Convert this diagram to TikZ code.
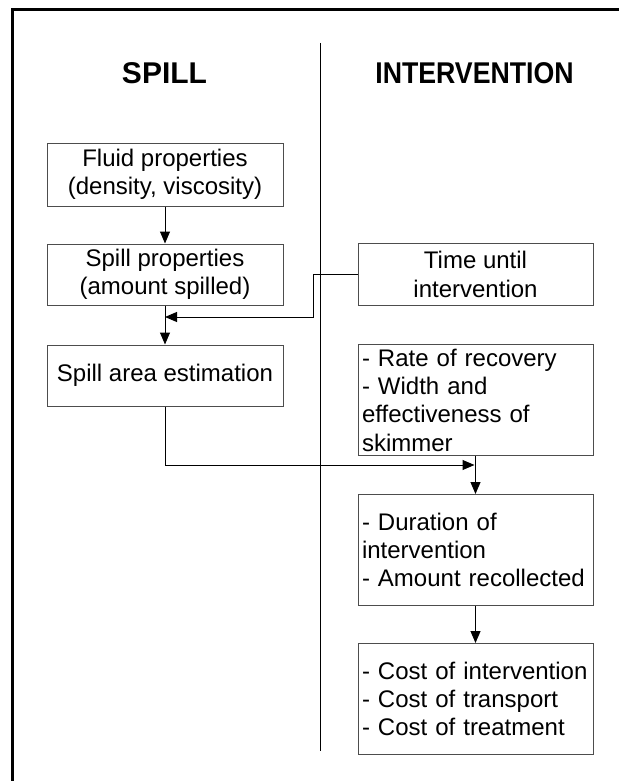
\documentclass[tikz,border=0pt]{standalone}
\usepackage{fontspec}
\setmainfont{Liberation Sans}
\usetikzlibrary{positioning, arrows.meta}
\definecolor{boxline}{HTML}{4D4D4D}
\hyphenpenalty=10000

\begin{document}
\begin{tikzpicture}[
  x=1pt, y=-1pt,
  every node/.style={font=\fontsize{24}{28.3}\selectfont},
  box/.style={
    draw=boxline, line width=1pt, inner sep=0pt,
    minimum width=236pt, minimum height=61pt, align=center
  },
  listbox/.style={
    draw=boxline, line width=1pt, inner xsep=4pt, inner ysep=0pt,
    text width=227pt, minimum height=111pt, align=left
  },
  title/.style={font=\fontsize{30}{36}\selectfont\bfseries},
  arrow/.style={-{Triangle[length=12pt, width=10pt]}, line width=1pt}
]
  \useasboundingbox (0,0) rectangle (619,781);
  % frame and column divider
  \draw[line width=3pt] (12,781) -- (12,9.5) -- (619,9.5);
  \draw[line width=1pt] (320,43) -- (320,751);

  \node[title] (spilltitle) at (164.5,73) {SPILL};
  \node[title] (intertitle) at (474.5,73) {\scalebox{0.89}[1]{INTERVENTION}};

  % spill column
  \node[box, minimum height=63pt] (fluid) at (165,174.5) {Fluid properties\\(density, viscosity)};
  \node[box, below=37pt of fluid] (spillprop) {Spill properties\\(amount spilled)};
  \node[box, below=39pt of spillprop] (area) {Spill area estimation};

  % intervention column
  \node[box, minimum width=235pt, minimum height=62pt, right=74pt of spillprop] (time) {Time until\\intervention};
  \node[listbox, below=38pt of time] (rate) {- Rate of recovery\\- Width and\\effectiveness of\\skimmer};
  \node[listbox, below=38pt of rate] (duration) {- Duration of\\intervention\\- Amount recollected};
  \node[listbox, below=37pt of duration] (cost) {- Cost of intervention\\- Cost of transport\\- Cost of treatment};

  \coordinate (meetA) at (165,317);
  \coordinate (meetB) at (474.5,465);

  \draw[arrow] (fluid) -- (spillprop);
  \draw[arrow] (spillprop) -- (area);
  \draw[arrow] (time.west) -- ++(-44,0) |- (meetA);
  \draw[arrow] (area.south) |- (meetB);
  \draw[arrow] (rate) -- (duration);
  \draw[arrow] (duration) -- (cost);
\end{tikzpicture}
\end{document}
